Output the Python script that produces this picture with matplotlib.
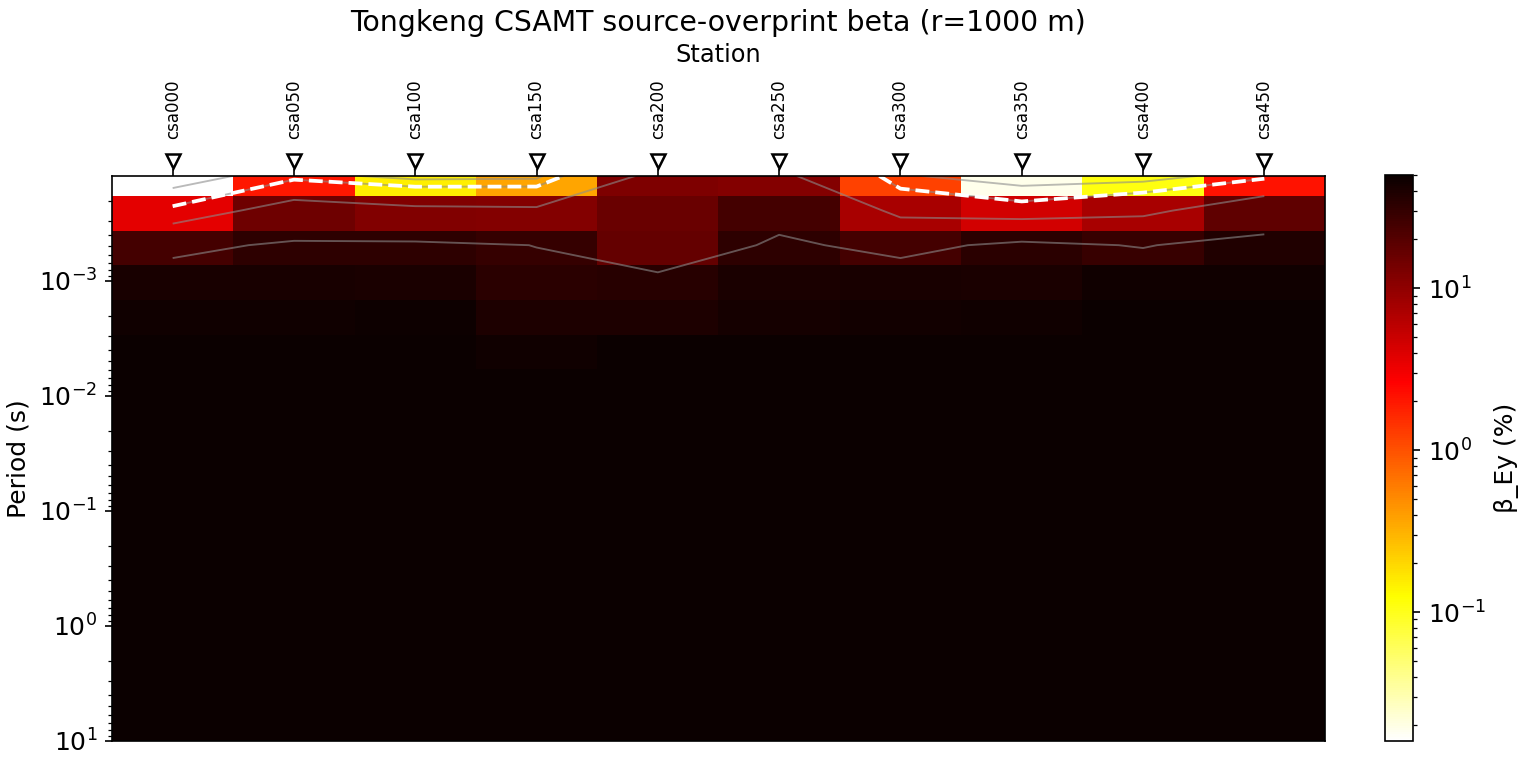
import numpy as np
import matplotlib
matplotlib.use("Agg")
import matplotlib.pyplot as plt
from matplotlib.colors import LogNorm

# stations along the profile
stations = ["csa000", "csa050", "csa100", "csa150", "csa200",
            "csa250", "csa300", "csa350", "csa400", "csa450"]

# transmitter frequencies (Hz), high to low
freqs = [8192, 4096, 2048, 1024, 512, 256, 128, 64, 32, 16, 8, 4, 2, 1, 0.5, 0.25, 0.125]

# beta_Ey (%) per frequency row (same order as freqs), one value per station
beta_rows = [
    [0.016, 2.0, 0.15, 0.36, 12.2, 11.5, 1.21, 0.019, 0.11, 2.1],
    [3.6, 15.0, 12.0, 11.5, 16.0, 25.0, 7.4, 4.5, 7.4, 18.0],
    [25.0, 33.0, 33.0, 29.8, 17.0, 33.0, 25.0, 34.0, 29.0, 37.7],
    [42.0, 42.0, 41.0, 34.0, 35.0, 41.0, 42.0, 41.0, 46.0, 46.0],
    [45.8, 45.8, 47.0, 39.6, 39.6, 43.6, 44.7, 45.8, 49.2, 49.2],
    [49.8, 49.8, 49.8, 45.8, 49.0, 49.0, 49.0, 49.5, 49.7, 49.7],
    [49.9, 49.9, 49.9, 49.6, 49.8, 49.8, 49.8, 49.9, 49.9, 49.9],
    [50.0, 50.0, 50.0, 49.9, 49.9, 49.9, 49.9, 50.0, 50.0, 50.0],
    [50.0, 50.0, 50.0, 50.0, 50.0, 50.0, 50.0, 50.0, 50.0, 50.0],
    [50.0, 50.0, 50.0, 50.0, 50.0, 50.0, 50.0, 50.0, 50.0, 50.0],
    [50.0, 50.0, 50.0, 50.0, 50.0, 50.0, 50.0, 50.0, 50.0, 50.0],
    [50.0, 50.0, 50.0, 50.0, 50.0, 50.0, 50.0, 50.0, 50.0, 50.0],
    [50.0, 50.0, 50.0, 50.0, 50.0, 50.0, 50.0, 50.0, 50.0, 50.0],
    [50.0, 50.0, 50.0, 50.0, 50.0, 50.0, 50.0, 50.0, 50.0, 50.0],
    [50.0, 50.0, 50.0, 50.0, 50.0, 50.0, 50.0, 50.0, 50.0, 50.0],
    [50.0, 50.0, 50.0, 50.0, 50.0, 50.0, 50.0, 50.0, 50.0, 50.0],
    [50.0, 50.0, 50.0, 50.0, 50.0, 50.0, 50.0, 50.0, 50.0, 50.0],
]

gray_levels = [1, 3, 10, 30]
threshold = 3

periods = 1.0 / np.array(freqs)
beta = np.array(beta_rows)
x = np.arange(len(stations))

fig = plt.figure(figsize=(10.2, 5.1), dpi=150)
ax = fig.add_axes([0.0732, 0.0314, 0.7928, 0.7386])
cax = fig.add_axes([0.9052, 0.0314, 0.0183, 0.7399])

norm = LogNorm(vmin=beta.min(), vmax=beta.max())
mesh = ax.pcolormesh(x, periods, beta, cmap="hot_r", norm=norm, shading="nearest")

# contour overlay: thin gray levels + dashed white threshold
ax.contour(x, periods, beta, levels=gray_levels, colors="0.55", linewidths=0.9, alpha=0.6)
ax.contour(x, periods, beta, levels=[threshold], colors="white", linewidths=1.8, linestyles="--")

ax.set_yscale("log")
ax.set_ylim(10, periods.min())
ax.set_xlim(-0.5, len(stations) - 0.5)
ax.set_ylabel("Period (s)", fontsize=12)
ax.tick_params(axis="y", labelsize=12)

# stations on top
ax.xaxis.tick_top()
ax.xaxis.set_label_position("top")
ax.set_xticks(x)
ax.set_xticklabels(stations, rotation=90, fontsize=8)
ax.tick_params(axis="x", pad=14)
ax.set_xlabel("Station", fontsize=11.5, labelpad=8.5)
ax.plot(x, np.full(len(x), 1.026), ls="none", marker="v", ms=7, mfc="white", mec="black",
        mew=1.2, transform=ax.get_xaxis_transform(), clip_on=False, zorder=10)

ax.set_title("Tongkeng CSAMT source-overprint beta (r=1000 m)", fontsize=13.6, pad=6)

cb = fig.colorbar(mesh, cax=cax)
cb.set_label("β_Ey (%)", fontsize=12)
cb.ax.tick_params(labelsize=12)

fig.savefig("out.png", dpi=150)
